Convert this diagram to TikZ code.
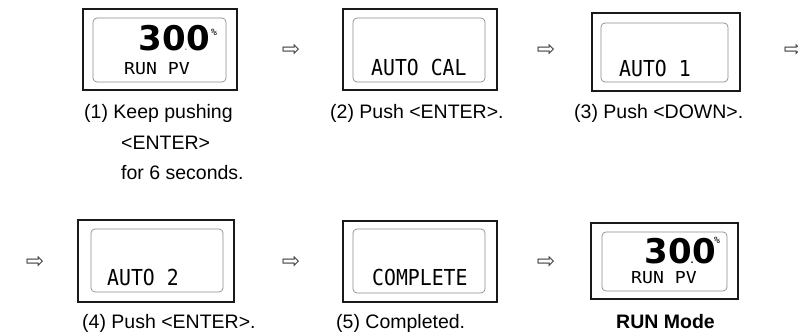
\documentclass[tikz,border=0pt]{standalone}
\usepackage{fontspec}
\setmainfont{Liberation Sans}
\newfontfamily\lcdfont[FakeStretch=0.9]{DejaVu Sans Mono}
\newfontfamily\lcdsmall[FakeStretch=1.1]{DejaVu Sans Mono}
\newfontfamily\lcdbig{DejaVu Sans}
\newfontfamily\arrowfont{DejaVu Sans}

\begin{document}
\begin{tikzpicture}[x=1pt, y=-1pt,
    panel/.style 2 args={draw=black!90, line width=1.8pt, minimum width=#1, minimum height=#2, inner sep=0pt},
    screen/.style 2 args={draw=black!45, line width=0.7pt, rounded corners=4pt, minimum width=#1, minimum height=#2, inner sep=0pt},
    lcdtext/.style={anchor=base west, inner sep=0pt, font=\lcdfont\fontsize{22}{22}\selectfont},
    lcdrun/.style={anchor=base west, inner sep=0pt, font=\lcdsmall\fontsize{16.5}{16.5}\selectfont},
    lcdnum/.style={anchor=base west, inner sep=0pt, font=\lcdbig\bfseries\fontsize{34}{34}\selectfont},
    lcdpct/.style={anchor=north west, inner sep=0pt, font=\lcdsmall\fontsize{9}{9}\selectfont},
    nextarrow/.style={inner sep=0pt, text=black!75, font=\arrowfont\fontsize{22}{22}\selectfont},
    caption/.style={anchor=base west, inner sep=0pt, font=\fontsize{19.5}{30}\selectfont}]

    % 0. 画布大小 (与原图比例一致)
    \useasboundingbox (0,0) rectangle (798,332);

    % 1. 六个显示面板 (外框 + 圆角内屏)
    \node[panel={154}{81}] (b1) at (160,49.5) {};
    \node[screen={133}{64}] (s1) at (159.5,50) {};
    \node[panel={154}{81}] (b2) at (420,49.5) {};
    \node[screen={132}{64}] (s2) at (419,50) {};
    \node[panel={148}{78}] (b3) at (666,52) {};
    \node[screen={127}{59}] (s3) at (664.5,52.5) {};
    \node[panel={156}{82}] (b4) at (156,261) {};
    \node[screen={132}{63}] (s4) at (157,260.5) {};
    \node[panel={154}{81}] (b5) at (420,261.5) {};
    \node[screen={132}{64}] (s5) at (419,261) {};
    \node[panel={147}{76}] (b6) at (664.5,261) {};
    \node[screen={125}{59}] (s6) at (664.5,261.5) {};

    % 2. 屏幕上的字
    \node[lcdnum] (n1) at (138.5,50) {30\makebox[0pt]{\fontsize{8}{8}\selectfont\color{black!40}.}0};
    \node[lcdpct] (p1) at (211,29) {\%};
    \node[lcdrun] (r1) at (124,74) {RUN PV};
    \node[lcdtext] (t2) at (371,75) {AUTO CAL};
    \node[lcdtext] (t3) at (619,76) {AUTO 1};
    \node[lcdtext] (t4) at (107,285) {AUTO 2};
    \node[lcdtext] (t5) at (372,285) {COMPLETE};
    \node[lcdnum] (n6) at (644.5,263) {30\makebox[0pt]{\fontsize{8}{8}\selectfont .}0};
    \node[lcdpct] (p6) at (714,237) {\%};
    \node[lcdrun] (r6) at (631,283) {RUN PV};

    % 3. 步骤之间的空心箭头
    \node[nextarrow] (a1) at (291,50) {⇨};
    \node[nextarrow] (a2) at (546,50) {⇨};
    \node[nextarrow] (a3) at (793,50) {⇨};
    \node[nextarrow] (a4) at (35,262) {⇨};
    \node[nextarrow] (a5) at (291,262) {⇨};
    \node[nextarrow] (a6) at (546,262) {⇨};

    % 4. 说明文字
    \node[caption] (c1) at (84,118) {(1) Keep pushing};
    \node[caption] (c1b) at (121,149.5) {<ENTER>};
    \node[caption] (c1c) at (121,179.5) {for 6 seconds.};
    \node[caption] (c2) at (330,118) {(2) Push <ENTER>.};
    \node[caption] (c3) at (574,118) {(3) Push <DOWN>.};
    \node[caption] (c4) at (82,328) {(4) Push <ENTER>.};
    \node[caption] (c5) at (336,328) {(5) Completed.};
    \node[caption, anchor=base, font=\fontsize{19.5}{30}\selectfont\bfseries] (c6) at (665.5,328) {RUN Mode};

\end{tikzpicture}
\end{document}
